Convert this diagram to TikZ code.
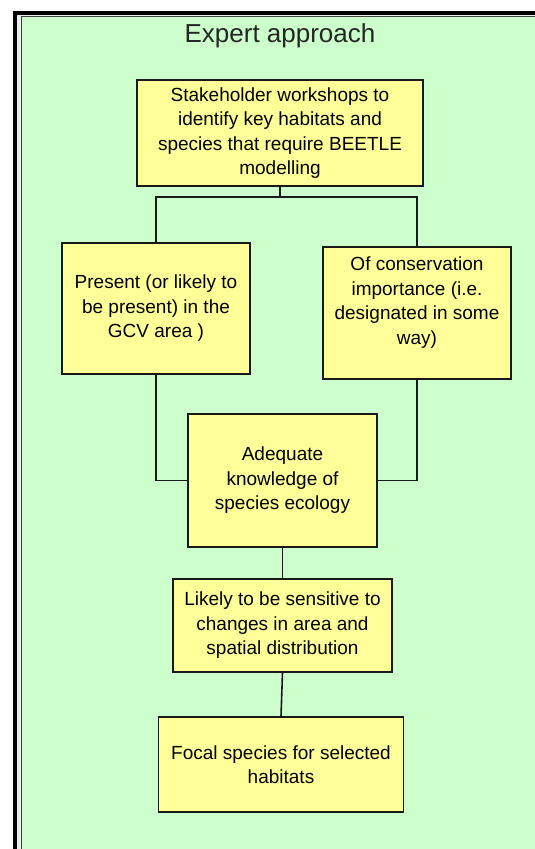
\documentclass[tikz,border=0pt]{standalone}
\usepackage{fontspec}
\setmainfont{Liberation Sans}
\usetikzlibrary{positioning,calc}
\definecolor{panelgreen}{HTML}{CCFFCC}
\definecolor{boxyellow}{HTML}{FFFF99}

\begin{document}
\begin{tikzpicture}[x=1pt, y=-1pt]
  \tikzstyle{stage} = [draw=black!90, fill=boxyellow, line width=1.6pt, align=center]
  \tikzstyle{stage} += [inner sep=0pt, font=\fontsize{19}{24.5}\selectfont]
  \tikzstyle{link} = [line width=1.6pt, black!90]

  \def\L{156};
  \def\R{417};
  \def\M{282.5};

  \useasboundingbox (0,0) rectangle (535,849);
  \clip (0,0) rectangle (535,849);

  % panel frame
  \fill[white] (0,0) rectangle (535,849);
  \draw[line width=4pt, fill=gray!15] (15,12.5) rectangle (600,900);
  \draw[line width=1.3pt, draw=black!75, fill=panelgreen] (21.3,16.5) rectangle (600,900);

  % title
  \node[text=black!85] (title) at (280,36) {\fontsize{26}{30}\selectfont Expert approach};

  % first row
  \node[stage, minimum width=286pt, minimum height=106pt] (habitats) at (280,133)
    {Stakeholder workshops to\\identify key habitats and\\species that require BEETLE\\modelling};

  % criteria
  \node[stage, minimum width=188pt, minimum height=131pt] (present) at (\L,308.5)
    {Present (or likely to\\be present) in the\\GCV area )};
  \node[stage, minimum width=188pt, minimum height=132pt] (conserv) at (\R,313)
    {Of conservation\\importance (i.e.\\designated in some\\way)\\ \mbox{}};
  \node[stage, minimum width=189pt, minimum height=133pt] (knowledge) at (\M,480.5)
    {Adequate\\knowledge of\\species ecology};
  \node[stage, minimum width=219pt, minimum height=93pt] (sensitive) at (\M,625.5)
    {Likely to be sensitive to\\changes in area and\\spatial distribution};

  % result
  \node[stage, minimum width=245pt, minimum height=95pt] (focal) at (281,764.5)
    {Focal species for selected\\habitats};

  % connection lines
  \coordinate (fork) at ($(habitats.south)+(0,10)$);
  \draw[link] (habitats.south) -- (fork);
  \draw[link] (present.north) |- (fork) -| (conserv.north);
  \draw[link] (present.south) |- (knowledge.west);
  \draw[link] (conserv.south) |- (knowledge.east);
  \draw[link] (knowledge.south) -- (sensitive.north);
  \draw[link] (sensitive.south) -- (focal.north);

\end{tikzpicture}
\end{document}
